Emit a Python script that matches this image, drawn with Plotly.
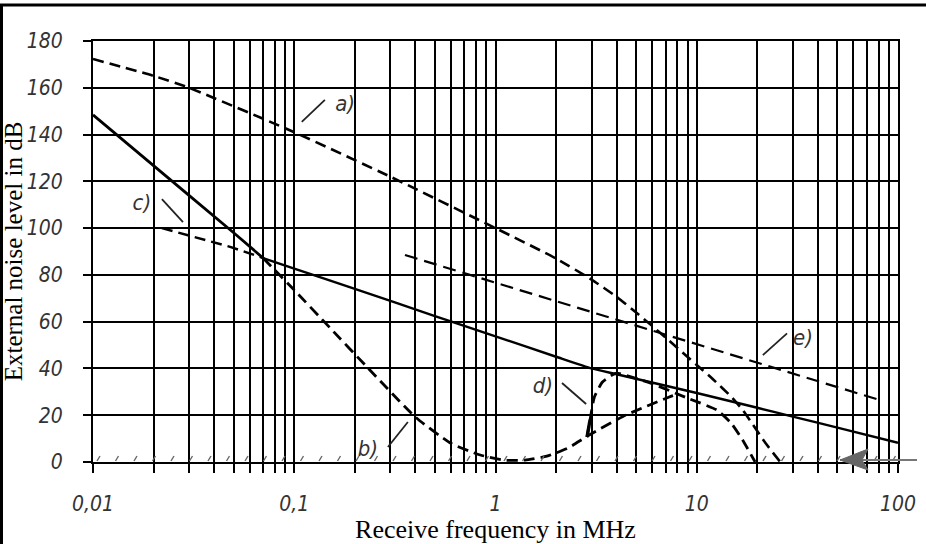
import plotly.graph_objects as go

# ---------------- data ----------------
x_tick_vals = [m * 10.0 ** e for e in range(-2, 2) for m in range(1, 10)] + [100]
x_tick_text = ["0,01" if v == 0.01 else "0,1" if v == 0.1 else "1" if v == 1 else
               "10" if v == 10 else "100" if v == 100 else "" for v in x_tick_vals]
y_tick_vals = [0, 20, 40, 60, 80, 100, 120, 140, 160, 180]
y_tick_text = [str(v) for v in y_tick_vals]

# a) dashed
a_x = [0.01, 0.02, 0.03, 0.1, 0.3, 1.0, 2.0, 3.0, 4.0, 5.0, 6.0, 7.0, 8.5, 10.0,
       12.0, 15.0, 17.0, 19.0, 22.0, 26.0]
a_y = [172.3, 165.1, 160, 141, 122, 100, 87, 78, 70.6, 63.9, 58.2, 53.2, 46.8, 41.5,
       35.5, 27.5, 22, 16, 8, 0]
# steep solid part (0.01 .. junction)
s_x = [0.01, 0.02, 0.03, 0.05, 0.07]
s_y = [148.4, 126.5, 114, 98, 87.2]
# b) dashed continuation
b_x = [0.07, 0.1, 0.15, 0.23, 0.4, 0.6, 0.84, 1.1, 1.4, 1.8, 2.3, 2.85, 4.3, 7.3, 8.0]
b_y = [87.2, 73.5, 57.5, 40.6, 19.2, 8.0, 3.0, 0.8, 0.8, 2.5, 6.0, 11.0, 19.5, 27.8, 29.0]
# c) dashed start
c_x = [0.022, 0.048, 0.07]
c_y = [100, 92, 87.2]
# c) solid continuation
m_x = [0.07, 0.1, 0.2, 0.5, 1.0, 2.0, 3.0, 4.0, 10.0, 20.0, 30.0, 50.0, 100]
m_y = [87.2, 82.7, 74, 62.4, 53.7, 45, 40, 37.5, 29.5, 23.2, 19.4, 14.7, 8.2]
# d) dashed
d_x = [2.85, 2.95, 3.1, 3.4, 3.8, 4.0, 5.86, 8.95, 12.6, 14.8, 16.9, 19.5]
d_y = [10.7, 18, 27.8, 34.2, 37.2, 38, 33.8, 27.4, 22.2, 16.7, 9.4, 0]
# e) dashed
e_x = [0.355, 81]
e_y = [88.5, 26.5]

# curve labels and leader lines
lab_text = ["a)", "b)", "c)", "d)", "e)"]
lab_x = [0.179, 0.232, 0.0175, 1.72, 33.7]
lab_y = [152.6, 5.1, 110, 32, 52.2]
lead_x = [[0.109, 0.142], [0.292, 0.367], [0.022, 0.028], [2.14, 2.82], [21.3, 28.1]]
lead_y = [[145.4, 154.8], [6.4, 17.1], [112.4, 102.6], [33.8, 24.8], [45.7, 55]]

# ---------------- figure ----------------
W, H = 926, 544
L, R, T, B = 93, 28, 41, 82
PW, PH = W - L - R, H - T - B


def px(x):
    return (x - L) / PW


def py(y):
    return (H - B - y) / PH


fig = go.Figure()


def add_line(x, y, dash, width=2.6, smooth=True):
    fig.add_trace(go.Scatter(
        x=x, y=y, mode="lines", showlegend=False, hoverinfo="skip",
        line=dict(color="black", width=width, dash=dash,
                  shape="spline" if smooth else "linear", smoothing=0.5)))


DASH = "11px,6px"
add_line(a_x, a_y, DASH)
add_line(s_x, s_y, "solid", 2.8, smooth=False)
add_line(b_x, b_y, DASH, 2.8)
add_line(c_x, c_y, DASH, 2.4, smooth=False)
add_line(m_x, m_y, "solid", 2.4)
add_line(d_x, d_y, DASH, 2.8)
add_line(d_x[:2], d_y[:2], "solid", 3.4, smooth=False)
add_line(e_x, e_y, "13px,7px", 2.2, smooth=False)

for lx, ly in zip(lead_x, lead_y):
    fig.add_trace(go.Scatter(x=lx, y=ly, mode="lines", showlegend=False,
                             hoverinfo="skip",
                             line=dict(color="#222", width=1.8)))

LABEL_FONT = "Liberation Sans Narrow, DejaVu Sans Condensed, Liberation Sans"
fig.add_trace(go.Scatter(
    x=lab_x, y=lab_y, mode="text", text=lab_text, showlegend=False,
    hoverinfo="skip", cliponaxis=False,
    textfont=dict(family=LABEL_FONT, size=22, color="#333", style="italic")))

shapes = []
# outer frame of the picture
shapes.append(dict(type="line", xref="paper", yref="paper",
                   x0=px(0), x1=px(W + 5), y0=py(5), y1=py(5),
                   line=dict(color="black", width=3)))
shapes.append(dict(type="line", xref="paper", yref="paper",
                   x0=px(1.5), x1=px(1.5), y0=py(4), y1=py(H + 5),
                   line=dict(color="black", width=3)))
# ground hatch along 0 dB
k = 0
while 97 + k * 18.5 < 895:
    xx = 97 + k * 18.5
    shapes.append(dict(type="line", xref="paper", yref="paper",
                       x0=px(xx), x1=px(xx + 3), y0=py(461), y1=py(456),
                       line=dict(color="#666", width=1.4)))
    k += 1
# grey arrow at the right end of the 0 dB line
shapes.append(dict(type="line", xref="paper", yref="paper",
                   x0=px(840), x1=px(917), y0=py(460), y1=py(460),
                   line=dict(color="#777", width=2.2)))
shapes.append(dict(type="path", xref="paper", yref="paper",
                   path="M {} {} L {} {} L {} {} L {} {} Z".format(
                       px(840), py(460), px(868), py(449),
                       px(862), py(460), px(868), py(470)),
                   fillcolor="#666", line=dict(color="#666", width=1)))

TITLE_FONT = "Liberation Serif, Times New Roman, serif"
fig.update_layout(
    width=W, height=H,
    margin=dict(l=L, r=R, t=T, b=B, autoexpand=False),
    paper_bgcolor="white", plot_bgcolor="white",
    shapes=shapes,
    xaxis=dict(
        type="log", range=[-2, 2],
        tickmode="array", tickvals=x_tick_vals, ticktext=x_tick_text,
        showgrid=True, gridcolor="black", gridwidth=1.8,
        showline=True, linecolor="black", linewidth=2, mirror=True,
        ticks="outside", ticklen=9, tickwidth=1.8, tickcolor="black",
        ticklabelstandoff=13, zeroline=False,
        tickfont=dict(family=LABEL_FONT, size=21, color="#333", style="italic"),
        title=dict(text="Receive frequency in MHz", standoff=0,
                   font=dict(family=TITLE_FONT, size=26, color="black")),
    ),
    yaxis=dict(
        range=[0, 180],
        tickmode="array", tickvals=y_tick_vals, ticktext=y_tick_text,
        showgrid=True, gridcolor="black", gridwidth=1.8,
        showline=True, linecolor="black", linewidth=2, mirror=True,
        ticks="outside", ticklen=8, tickwidth=1.8, tickcolor="black",
        ticklabelstandoff=16, zeroline=False,
        tickfont=dict(family=LABEL_FONT, size=21, color="#333", style="italic"),
        title=dict(text="External noise level in dB", standoff=0,
                   font=dict(family=TITLE_FONT, size=25, color="black")),
    ),
)

fig.write_html("out.html", config={"displayModeBar": False},
               post_script="document.body.style.margin='0px';")
